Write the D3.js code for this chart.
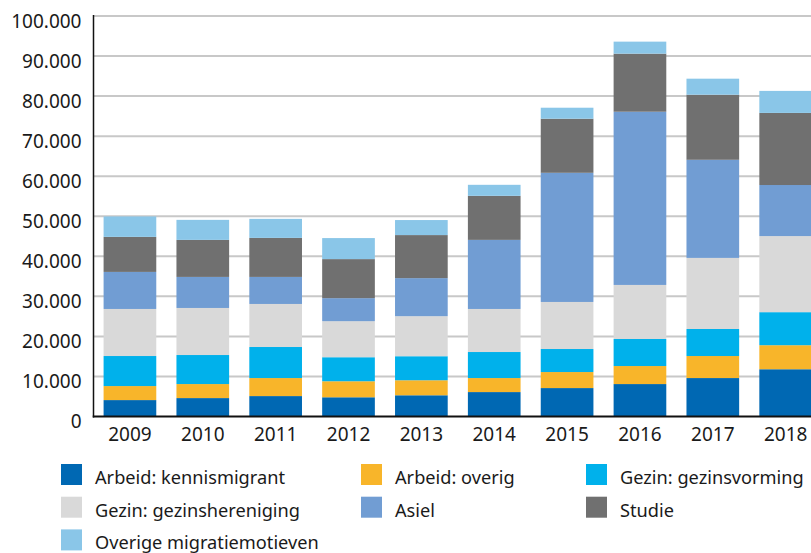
<!DOCTYPE html>
<html>
<head>
<meta charset="utf-8">
<script src="https://cdn.jsdelivr.net/npm/d3@7"></script>
<style>
  html, body { margin: 0; padding: 0; background: #fff; }
  svg { display: block; font-family: "Noto Sans", "Open Sans", sans-serif; }
</style>
</head>
<body>
<svg id="chart" width="811" height="553"></svg>
<script>
// Years on the x axis
const years = ["2009", "2010", "2011", "2012", "2013", "2014", "2015", "2016", "2017", "2018"];

// Migration motives (stack order, bottom to top)
const motives = [
  "Arbeid: kennismigrant",
  "Arbeid: overig",
  "Gezin: gezinsvorming",
  "Gezin: gezinshereniging",
  "Asiel",
  "Studie",
  "Overige migratiemotieven"
];

// Number of first-time residence permits per motive and year
const kennismigrant = [4100, 4600, 5100, 4800, 5300, 6100, 7100, 8100, 9600, 11800];
const arbeidOverig  = [3500, 3500, 4500, 4000, 3750, 3500, 4000, 4500, 5500, 6000];
const gezinsvorming = [7500, 7250, 7750, 6000, 6000, 6500, 5750, 6750, 6750, 8250];
const hereniging    = [11750, 11750, 10750, 9000, 10000, 10750, 11750, 13500, 17750, 19000];
const asiel         = [9250, 7750, 6750, 5750, 9500, 17250, 32250, 43250, 24500, 12750];
const studie        = [8750, 9250, 9750, 9750, 10750, 11000, 13500, 14500, 16250, 18000];
const overige       = [5100, 5000, 4750, 5250, 3750, 2750, 2750, 3000, 4000, 5500];

// Y axis tick values and their labels
const yTicks = [0, 10000, 20000, 30000, 40000, 50000, 60000, 70000, 80000, 90000, 100000];
const yTickLabels = ["0", "10.000", "20.000", "30.000", "40.000", "50.000", "60.000", "70.000", "80.000", "90.000", "100.000"];

const colors = ["#0068b3", "#f8b52a", "#00b1eb", "#d9d9d9", "#719dd3", "#707070", "#8ac6e8"];

const seriesValues = [kennismigrant, arbeidOverig, gezinsvorming, hereniging, asiel, studie, overige];
const rows = years.map((y, i) => {
  const r = { year: y };
  motives.forEach((m, k) => { r[m] = seriesValues[k][i]; });
  return r;
});

const svg = d3.select("#chart");
const W = 811;
const axisX = 93.5;
const plotTop = 16, plotBottom = 416.5;

const x = d3.scaleBand()
  .domain(years)
  .range([axisX, axisX + 72.86 * 10])
  .paddingInner(0.277)
  .paddingOuter(0.1385);

const y = d3.scaleLinear()
  .domain([0, 100000])
  .range([plotBottom, plotTop]);

// Horizontal gridlines
svg.append("g")
  .selectAll("line")
  .data(yTicks.filter(d => d > 0))
  .join("line")
  .attr("x1", axisX)
  .attr("x2", W)
  .attr("y1", d => y(d))
  .attr("y2", d => y(d))
  .attr("stroke", "#c8c8c8")
  .attr("stroke-width", 2);

// Stacked bars
const stack = d3.stack().keys(motives);
const layers = stack(rows);

svg.append("g")
  .selectAll("g")
  .data(layers)
  .join("g")
  .attr("fill", (d, i) => colors[i])
  .selectAll("rect")
  .data(d => d)
  .join("rect")
  .attr("x", d => x(d.data.year))
  .attr("width", x.bandwidth())
  .attr("y", d => y(d[1]))
  .attr("height", d => y(d[0]) - y(d[1]));

// Axis lines
svg.append("line")
  .attr("x1", axisX).attr("x2", axisX)
  .attr("y1", plotTop - 1).attr("y2", plotBottom + 1)
  .attr("stroke", "#111").attr("stroke-width", 1.5);
svg.append("line")
  .attr("x1", axisX - 0.75).attr("x2", W)
  .attr("y1", plotBottom).attr("y2", plotBottom)
  .attr("stroke", "#111").attr("stroke-width", 2);

// Y axis labels
const yAxis = d3.axisLeft(y)
  .tickValues(yTicks)
  .tickFormat((d, i) => yTickLabels[i])
  .tickSize(0)
  .tickPadding(12);
const gy = svg.append("g")
  .attr("transform", `translate(${axisX},0)`)
  .call(yAxis);
gy.select(".domain").remove();
gy.selectAll("text")
  .attr("font-size", 19)
  .attr("font-family", "'Noto Sans', sans-serif")
  .attr("fill", "#1a1a1a")
  .attr("dy", "0.6em");

// X axis labels
const xAxis = d3.axisBottom(x).tickSize(0).tickPadding(12);
const gx = svg.append("g")
  .attr("transform", `translate(0,${plotBottom})`)
  .call(xAxis);
gx.select(".domain").remove();
gx.selectAll("text")
  .attr("font-size", 19)
  .attr("font-family", "'Noto Sans', sans-serif")
  .attr("fill", "#1a1a1a")
  .attr("dy", "0.66em");

// Legend: three columns
const legendCols = [61, 361, 586];
const legendRows = [464, 496.7, 529.4];
const legend = svg.append("g");
motives.forEach((m, i) => {
  const col = i % 3, row = Math.floor(i / 3);
  const gx0 = legendCols[col], gy0 = legendRows[row];
  legend.append("rect")
    .attr("x", gx0).attr("y", gy0)
    .attr("width", 21).attr("height", 21)
    .attr("fill", colors[i]);
  legend.append("text")
    .attr("x", gx0 + 34)
    .attr("y", gy0 + 20)
    .attr("font-size", 18.2)
    .attr("fill", "#1a1a1a")
    .text(m);
});
</script>
</body>
</html>
